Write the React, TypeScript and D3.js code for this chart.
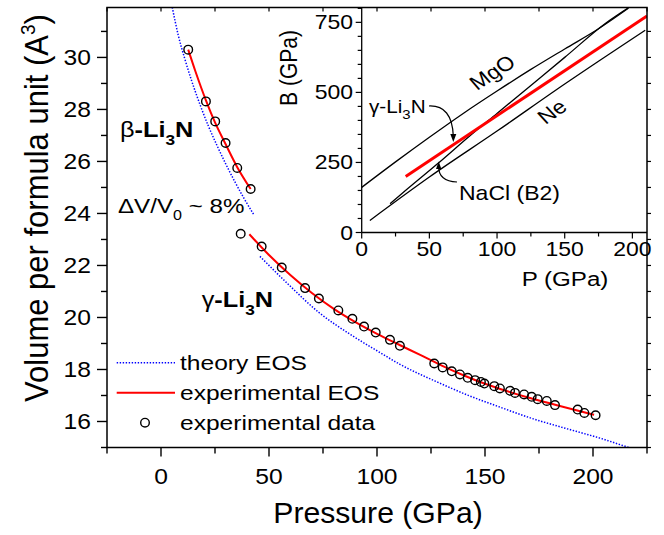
import React from 'react';
import * as d3 from 'd3';

// ---------- main plot data ----------
const betaP = [12.6, 20.8, 25.1, 29.9, 35.3, 41.5];
const betaV = [30.3, 28.31, 27.54, 26.71, 25.75, 24.94];

const gammaP = [36.9, 46.6, 55.9, 66.7, 73.1, 82.1, 88.6, 94.0, 99.4, 106.0, 110.6, 126.5, 130.4, 134.6, 138.4, 142.0, 145.4, 148.1, 149.7, 154.3, 156.9, 161.6, 163.9, 168.1, 171.6, 174.4, 178.6, 182.4, 192.9, 196.0, 201.2];
const gammaV = [23.22, 22.73, 21.92, 21.13, 20.73, 20.27, 19.95, 19.65, 19.42, 19.14, 18.91, 18.23, 18.08, 17.93, 17.81, 17.68, 17.59, 17.52, 17.46, 17.36, 17.27, 17.18, 17.1, 17.04, 16.95, 16.86, 16.79, 16.63, 16.46, 16.33, 16.24];

const expBetaP = [12.6, 16, 20.8, 25, 30, 35.3, 41.5];
const expBetaV = [30.3, 29.45, 28.35, 27.5, 26.65, 25.78, 24.94];

const expGammaP = [40.9, 50, 60, 70, 80, 90, 100, 110, 120, 130, 140, 150, 160, 170, 180, 190, 200.5];
const expGammaV = [23.2, 22.4, 21.62, 20.93, 20.33, 19.82, 19.37, 18.96, 18.56, 18.15, 17.78, 17.45, 17.17, 16.92, 16.7, 16.48, 16.26];

const thBetaP = [5.2, 8, 11, 14, 18, 22, 26, 30, 34, 38.5, 43];
const thBetaV = [31.93, 30.85, 29.95, 29.15, 28.2, 27.35, 26.6, 25.9, 25.25, 24.57, 23.95];

const thGammaP = [45.8, 58, 73, 88, 100, 110.6, 129.2, 141.5, 157, 172.4, 188, 203.2, 216.5];
const thGammaV = [22.35, 21.35, 20.2, 19.33, 18.72, 18.2, 17.47, 17.03, 16.55, 16.1, 15.72, 15.36, 15.0];

const xTickVals = [-25, 0, 25, 50, 75, 100, 125, 150, 175, 200, 225];
const xTickLabels = [0, 50, 100, 150, 200];
const yTickVals = [15, 16, 17, 18, 19, 20, 21, 22, 23, 24, 25, 26, 27, 28, 29, 30, 31];
const yTickLabels = [16, 18, 20, 22, 24, 26, 28, 30];

// ---------- inset data ----------
const mgoP = [0, 25, 50, 75, 100, 125, 150, 175, 197];
const mgoB = [161, 252, 340, 425, 505, 582, 655, 727, 800];
const naclP = [21, 30, 56, 80, 100, 125, 150, 180, 198];
const naclB = [103, 140, 245, 345, 425, 525, 625, 746, 805];
const neP = [6, 50, 100, 150, 209.5];
const neB = [43, 198, 362, 530, 722];
const liP = [32.5, 210.8];
const liB = [200, 773];

const ixTickVals = [0, 25, 50, 75, 100, 125, 150, 175, 200];
const ixTickLabels = [0, 50, 100, 150, 200];
const iyTickVals = [0, 50, 100, 150, 200, 250, 300, 350, 400, 450, 500, 550, 600, 650, 700, 750, 800];
const iyTickLabels = [0, 250, 500, 750];

const FONT = "'Liberation Sans', Arial, Helvetica, sans-serif";
const S = 1.15;

function rotApparent(deg: number) {
  const r = (Math.abs(deg) * Math.PI) / 180;
  const a = (Math.atan(Math.tan(r) * S) * 180) / Math.PI;
  return deg < 0 ? -a : a;
}

function Txt(props: any) {
  const { x, y, size, anchor = 'start', rot = 0, weight = 'normal', sx = S, children } = props;
  return (
    <text
      transform={`translate(${x},${y}) scale(${sx},1)${rot ? ` rotate(${rot})` : ''}`}
      fontSize={size}
      textAnchor={anchor}
      fontWeight={weight}
      fontFamily={FONT}
      fill="#000"
    >
      {children}
    </text>
  );
}

export default function App() {
  const L = 107, R = 647, T = 7.5, B = 447.5;
  const x = d3.scaleLinear().domain([-25, 225]).range([L, R]);
  const y = d3.scaleLinear().domain([15, 31.92]).range([B, T]);

  const iL = 361.7, iB = 232.5;
  const ix = d3.scaleLinear().domain([0, 210.8]).range([iL, R]);
  const iy = d3.scaleLinear().domain([0, 803]).range([iB, T]);

  const mainLine = (P: number[], V: number[]) =>
    d3.line<number>().x((_, i) => x(P[i])).y((_, i) => y(V[i])).curve(d3.curveMonotoneX)(P) || '';
  const insetLine = (P: number[], Bv: number[]) =>
    d3.line<number>().x((_, i) => ix(P[i])).y((_, i) => iy(Bv[i])).curve(d3.curveMonotoneX)(P) || '';

  const blue = '#0000ff';
  const red = '#ff0000';
  const dots = '1.4 1.6';

  return (
    <svg width={664} height={535} style={{ position: 'absolute', left: 0, top: 0, background: '#fff' }}>
      <defs>
        <clipPath id="mainClip">
          <rect x={L} y={T} width={R - L} height={B - T} />
        </clipPath>
        <clipPath id="insetClip">
          <rect x={iL} y={T} width={R - iL} height={iB - T} />
        </clipPath>
      </defs>
      <rect x={0} y={0} width={664} height={535} fill="#fff" />

      {/* main data */}
      <g clipPath="url(#mainClip)">
        <path d={mainLine(thBetaP, thBetaV)} fill="none" stroke={blue} strokeWidth={1.5} strokeDasharray={dots} />
        <path d={mainLine(thGammaP, thGammaV)} fill="none" stroke={blue} strokeWidth={1.5} strokeDasharray={dots} />
        <path d={mainLine(expBetaP, expBetaV)} fill="none" stroke={red} strokeWidth={2} />
        <path d={mainLine(expGammaP, expGammaV)} fill="none" stroke={red} strokeWidth={2} />
        {betaP.map((p, i) => (
          <circle key={'b' + i} cx={x(p)} cy={y(betaV[i])} r={4.3} fill="none" stroke="#000" strokeWidth={1.4} />
        ))}
        {gammaP.map((p, i) => (
          <circle key={'g' + i} cx={x(p)} cy={y(gammaV[i])} r={4.3} fill="none" stroke="#000" strokeWidth={1.4} />
        ))}
      </g>

      {/* legend */}
      <line x1={116.7} x2={175} y1={362.7} y2={362.7} stroke={blue} strokeWidth={1.5} strokeDasharray={dots} />
      <Txt x={180} y={370} size={21} sx={1.17}>theory EOS</Txt>
      <line x1={116.7} x2={175} y1={392.7} y2={392.7} stroke={red} strokeWidth={2} />
      <Txt x={180} y={400} size={21} sx={1.17}>experimental EOS</Txt>
      <circle cx={145} cy={422.7} r={4.3} fill="none" stroke="#000" strokeWidth={1.4} />
      <Txt x={180} y={430} size={21} sx={1.17}>experimental data</Txt>

      {/* annotations */}
      <Txt x={120} y={137} size={22}>
        <tspan>β</tspan>
        <tspan fontWeight="bold">-Li</tspan>
        <tspan fontWeight="bold" fontSize={15} dy={8}>3</tspan>
        <tspan fontWeight="bold" dy={-8}>N</tspan>
      </Txt>
      <Txt x={118} y={213} size={21}>
        <tspan>ΔV/V</tspan>
        <tspan fontSize={14} dy={7}>0</tspan>
        <tspan dy={-7}> ~ 8%</tspan>
      </Txt>
      <Txt x={201.7} y={306.7} size={22}>
        <tspan>γ</tspan>
        <tspan fontWeight="bold">-Li</tspan>
        <tspan fontWeight="bold" fontSize={15} dy={8}>3</tspan>
        <tspan fontWeight="bold" dy={-8}>N</tspan>
      </Txt>

      {/* inset */}
      <rect x={iL} y={T} width={R - iL} height={iB - T} fill="#fff" />
      <g clipPath="url(#insetClip)">
        <path d={insetLine(mgoP, mgoB)} fill="none" stroke="#000" strokeWidth={1.3} />
        <path d={insetLine(naclP, naclB)} fill="none" stroke="#000" strokeWidth={1.3} />
        <path d={insetLine(neP, neB)} fill="none" stroke="#000" strokeWidth={1.3} />
        <path d={insetLine(liP, liB)} fill="none" stroke={red} strokeWidth={3} />
      </g>
      <line x1={iL} x2={iL} y1={T} y2={iB} stroke="#000" strokeWidth={1.3} />
      <line x1={iL} x2={R} y1={iB} y2={iB} stroke="#000" strokeWidth={1.3} />
      {ixTickVals.map((v) => {
        const major = ixTickLabels.includes(v);
        return <line key={'ixt' + v} x1={ix(v)} x2={ix(v)} y1={iB} y2={iB + (major ? 6 : 4)} stroke="#000" strokeWidth={1.2} />;
      })}
      {ixTickLabels.map((v) => (
        <Txt key={'ixl' + v} x={ix(v)} y={256} size={20} anchor="middle">{v}</Txt>
      ))}
      {iyTickVals.map((v) => {
        const major = iyTickLabels.includes(v);
        return <line key={'iyt' + v} x1={iL} x2={iL - (major ? 6 : 4)} y1={iy(v)} y2={iy(v)} stroke="#000" strokeWidth={1.2} />;
      })}
      {iyTickLabels.map((v) => (
        <Txt key={'iyl' + v} x={353} y={iy(v) + 7} size={20} anchor="end">{v}</Txt>
      ))}
      <Txt x={297} y={68} size={21} anchor="middle" rot={-90}>B (GPa)</Txt>
      <Txt x={565} y={286} size={21} anchor="middle">P (GPa)</Txt>
      <Txt x={497} y={78} size={20} anchor="middle" rot={rotApparent(-33)}>MgO</Txt>
      <Txt x={557} y={117} size={20} anchor="middle" rot={rotApparent(-35)}>Ne</Txt>
      <Txt x={369} y={113} size={18}>
        <tspan>γ-Li</tspan>
        <tspan fontSize={13} dy={6}>3</tspan>
        <tspan dy={-6}>N</tspan>
      </Txt>
      <path d="M429,106 Q452,105 453.3,136" fill="none" stroke="#000" strokeWidth={1.2} />
      <path d="M450.3,134 L456.3,134 L453.3,142 Z" fill="#000" />
      <Txt x={459} y={200} size={20}>NaCl (B2)</Txt>
      <path d="M457,182 Q438.5,181 438.7,167" fill="none" stroke="#000" strokeWidth={1.2} />
      <path d="M436,169 L441.4,169 L438.7,161.5 Z" fill="#000" />

      {/* main frame and ticks */}
      <rect x={L} y={T} width={R - L} height={B - T} fill="none" stroke="#000" strokeWidth={1.5} />
      {xTickVals.map((v) => {
        const major = xTickLabels.includes(v);
        return (
          <g key={'xt' + v}>
            <line x1={x(v)} x2={x(v)} y1={B} y2={B + (major ? 9 : 6)} stroke="#000" strokeWidth={1.4} />
            <line x1={x(v)} x2={x(v)} y1={T} y2={T + 4} stroke="#000" strokeWidth={1.2} />
          </g>
        );
      })}
      {xTickLabels.map((v) => (
        <Txt key={'xl' + v} x={x(v)} y={484} size={22} anchor="middle" sx={1.12}>{v}</Txt>
      ))}
      {yTickVals.map((v) => {
        const major = yTickLabels.includes(v);
        return (
          <g key={'yt' + v}>
            <line x1={L} x2={L - (major ? 10 : 6)} y1={y(v)} y2={y(v)} stroke="#000" strokeWidth={1.4} />
            <line x1={R} x2={R + 4} y1={y(v)} y2={y(v)} stroke="#000" strokeWidth={1.2} />
          </g>
        );
      })}
      {yTickLabels.map((v) => (
        <Txt key={'yl' + v} x={91} y={y(v) + 8} size={22} anchor="end" sx={1.12}>{v}</Txt>
      ))}
      <Txt x={378} y={523} size={29} anchor="middle" sx={1.04}>Pressure (GPa)</Txt>
      <Txt x={48} y={208} size={31} anchor="middle" rot={-90} sx={1.1}>
        <tspan>Volume per formula unit (A</tspan>
        <tspan fontSize={19} dy={-12}>3</tspan>
        <tspan dy={12}>)</tspan>
      </Txt>
    </svg>
  );
}
